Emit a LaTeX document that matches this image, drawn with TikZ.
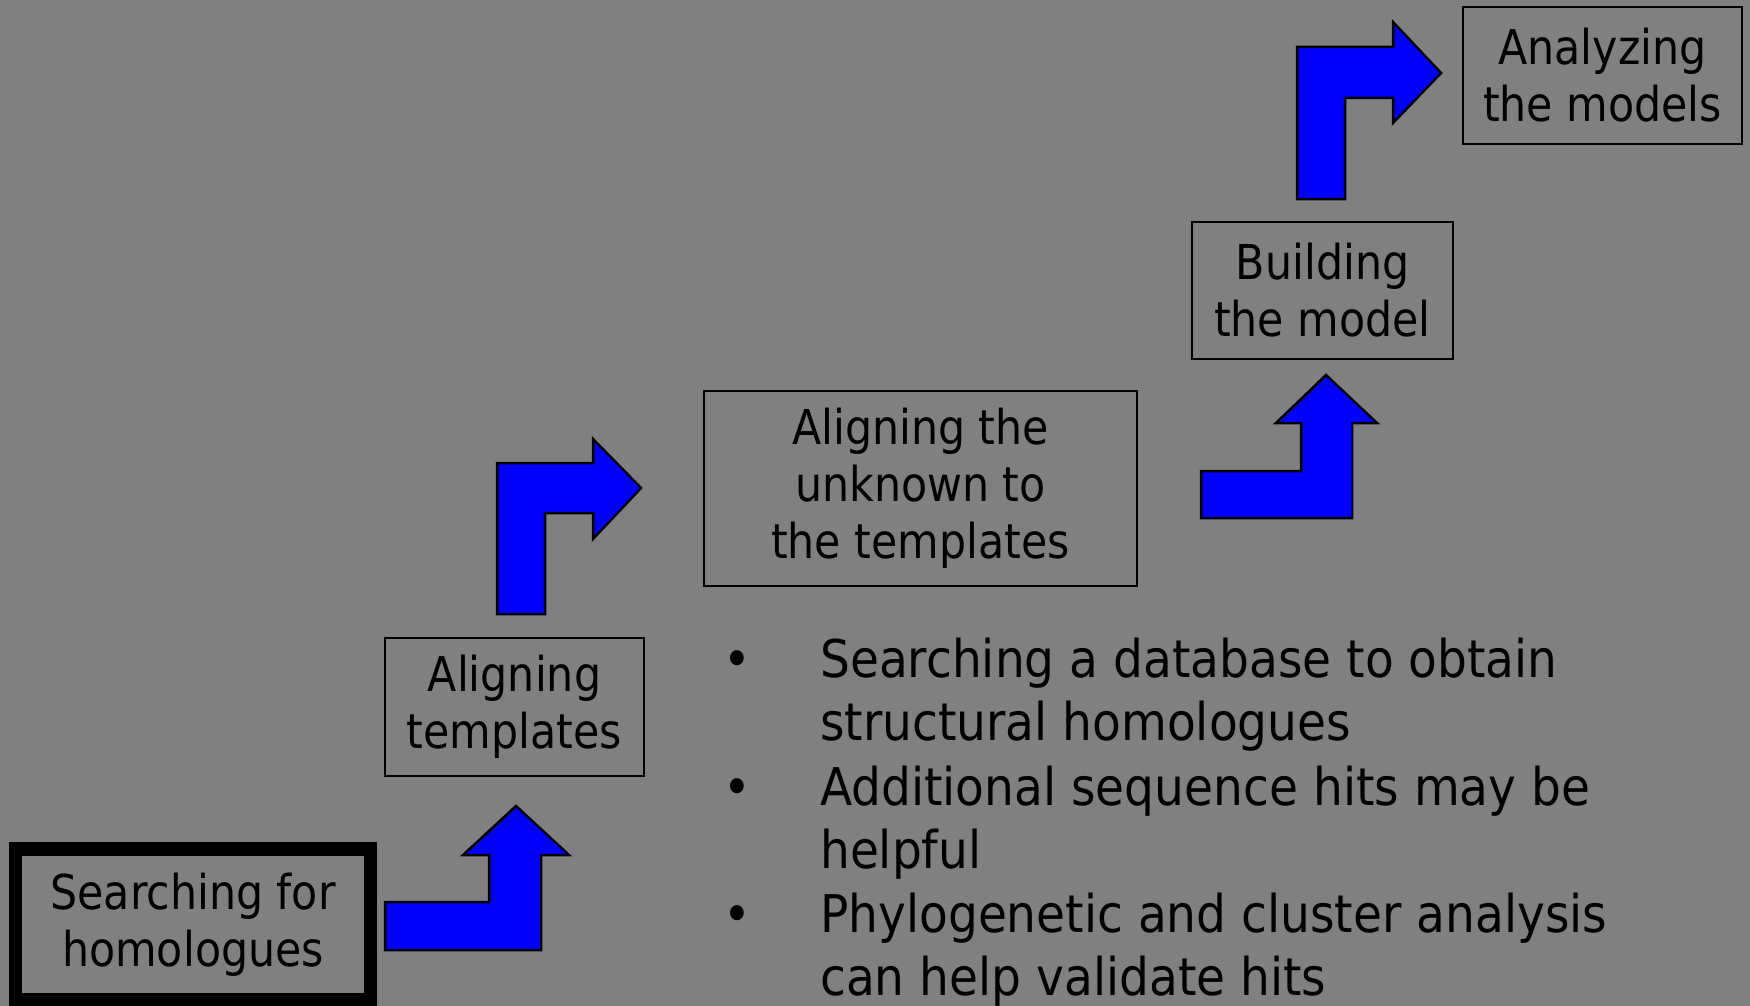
\documentclass[tikz,border=0pt]{standalone}
\usepackage{fontspec}
\setmainfont{DejaVu Sans}
\newfontfamily\stagefam{DejaVu Sans}[FakeStretch=0.89]
\newfontfamily\listfam{DejaVu Sans}[FakeStretch=0.905]
\newcommand\stagefont{\stagefam\fontsize{48}{57}\selectfont}
\newcommand\listfont{\listfam\fontsize{52}{63}\selectfont}
\definecolor{slidegray}{RGB}{128,128,128}
\definecolor{arrowblue}{RGB}{0,0,255}
\begin{document}
\begin{tikzpicture}[x=1pt,y=-1pt,
  stage/.style={draw=black,line width=2.2pt,inner sep=0pt,align=center,font=\stagefont,text=black},
  bentarrow/.style={fill=arrowblue,draw=black,line width=2.5pt,line join=miter},
  listline/.style={anchor=base west,inner sep=0pt,font=\listfont,text=black},
  listdot/.style={anchor=base,inner sep=0pt,font=\listfont,text=black}]
\fill[slidegray] (0,0) rectangle (1750,1006);
\useasboundingbox (0,0) rectangle (1750,1006);

% process stages
\node[stage,line width=13.4pt,minimum width=355pt,minimum height=151pt] (search) at (193,924.5) {Searching for\\homologues};
\node[stage,minimum width=259pt,minimum height=138pt] (templ) at (514.5,707) {Aligning\\templates};
\node[stage,minimum width=433pt,minimum height=195pt] (unknown) at (920.5,488.5) {Aligning the\\unknown to\\the templates};
\node[stage,minimum width=261pt,minimum height=137pt] (build) at (1322.5,290.5) {Building\\the model};
\node[stage,minimum width=279pt,minimum height=137pt] (analyze) at (1602.5,75.5) {Analyzing\\the models};

% bent block arrows between the stages
\draw[bentarrow] (385,902) -- (489,902) -- (489,855) -- (463,855) -- (516,806) -- (569,855) -- (541,855) -- (541,950) -- (385,950) -- cycle;
\draw[bentarrow] (497,614) -- (497,463) -- (593,463) -- (593,439) -- (641,488) -- (593,539) -- (593,513) -- (545,513) -- (545,614) -- cycle;
\draw[bentarrow] (1201,471) -- (1301,471) -- (1301,423) -- (1276,423) -- (1326,375) -- (1377,423) -- (1352,423) -- (1352,518) -- (1201,518) -- cycle;
\draw[bentarrow] (1297,199) -- (1297,47) -- (1393,47) -- (1393,22) -- (1441,73) -- (1393,123) -- (1393,98) -- (1345,98) -- (1345,199) -- cycle;

% notes on the first stage
\node[listdot] (b1) at (737,677) {•};
\node[listline] (l1a) at (820,677) {Searching a database to obtain};
\node[listline] (l1b) at (820,740) {structural homologues};
\node[listdot] (b2) at (737,805) {•};
\node[listline] (l2a) at (820,805) {Additional sequence hits may be};
\node[listline] (l2b) at (820,868) {helpful};
\node[listdot] (b3) at (737,932) {•};
\node[listline] (l3a) at (820,932) {Phylogenetic and cluster analysis};
\node[listline] (l3b) at (820,995) {can help validate hits};
\end{tikzpicture}
\end{document}
